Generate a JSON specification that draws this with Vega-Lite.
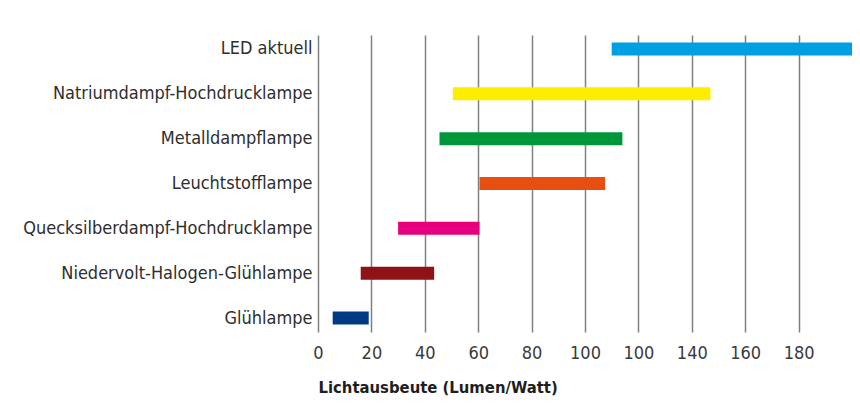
{
  "$schema": "https://vega.github.io/schema/vega-lite/v6.json",
  "width": 534,
  "height": 297,
  "autosize": {"type": "none"},
  "padding": {"left": 318, "top": 35, "right": 8, "bottom": 85},
  "background": "white",
  "data": {
    "values": [
      {"lampe": "LED aktuell", "von": 110, "bis": 200},
      {"lampe": "Natriumdampf-Hochdrucklampe", "von": 50.5, "bis": 147},
      {"lampe": "Metalldampflampe", "von": 45.5, "bis": 114},
      {"lampe": "Leuchtstofflampe", "von": 60.5, "bis": 107.5},
      {"lampe": "Quecksilberdampf-Hochdrucklampe", "von": 30, "bis": 60.5},
      {"lampe": "Niedervolt-Halogen-Glühlampe", "von": 16, "bis": 43.5},
      {"lampe": "Glühlampe", "von": 5.5, "bis": 19}
    ]
  },
  "mark": {"type": "bar", "size": 13},
  "encoding": {
    "y": {
      "field": "lampe",
      "type": "nominal",
      "sort": null,
      "scale": {"type": "point", "padding": 0.31},
      "axis": {
        "title": null,
        "domain": false,
        "ticks": false,
        "grid": false,
        "labelPadding": 6,
        "labelFont": "DejaVu Sans Condensed, Liberation Sans, sans-serif",
        "labelFontSize": 18,
        "labelColor": "#2e2e2e",
        "labelLimit": 400
      }
    },
    "x": {
      "field": "von",
      "type": "quantitative",
      "scale": {"domain": [0, 200], "nice": false, "zero": true},
      "axis": {
        "title": "Lichtausbeute (Lumen/Watt)",
        "titleFont": "DejaVu Sans Condensed, Liberation Sans, sans-serif",
        "titleFontSize": 16.5,
        "titleFontWeight": "bold",
        "titleColor": "#1e1e1e",
        "titleAnchor": "start",
        "titleAlign": "left",
        "titlePadding": 17,
        "values": [0, 20, 40, 60, 80, 100, 120, 140, 160, 180],
        "labelExpr": "datum.value == 120 ? '100' : datum.label",
        "labelFont": "DejaVu Sans Condensed, Liberation Sans, sans-serif",
        "labelFontSize": 18,
        "labelColor": "#3a3a3a",
        "labelPadding": 12,
        "labelFlush": false,
        "domain": false,
        "ticks": false,
        "grid": true,
        "gridColor": "#808080",
        "gridWidth": 1.5,
        "gridOpacity": 1
      }
    },
    "x2": {"field": "bis"},
    "color": {
      "field": "lampe",
      "type": "nominal",
      "scale": {
        "domain": ["LED aktuell", "Natriumdampf-Hochdrucklampe", "Metalldampflampe", "Leuchtstofflampe", "Quecksilberdampf-Hochdrucklampe", "Niedervolt-Halogen-Glühlampe", "Glühlampe"],
        "range": ["#009FE3", "#FFED00", "#00963A", "#E84E0F", "#E6007E", "#8F1217", "#003A85"]
      },
      "legend": null
    }
  },
  "config": {"view": {"stroke": null}}
}
